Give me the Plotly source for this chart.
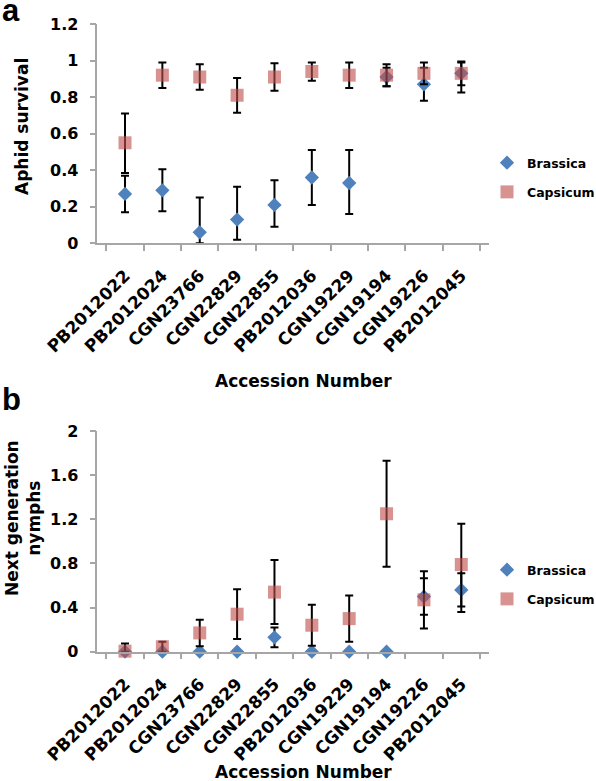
import plotly.graph_objects as go

categories = ["PB2012022", "PB2012024", "CGN23766", "CGN22829", "CGN22855",
              "PB2012036", "CGN19229", "CGN19194", "CGN19226", "PB2012045"]

# Panel a: aphid survival
a_brassica = [0.27, 0.29, 0.06, 0.13, 0.21, 0.36, 0.33, 0.91, 0.87, 0.93]
a_brassica_err_plus = [0.10, 0.115, 0.19, 0.18, 0.135, 0.15, 0.18, 0.05, 0.09, 0.065]
a_brassica_err_minus = [0.10, 0.115, 0.06, 0.11, 0.12, 0.15, 0.17, 0.05, 0.09, 0.065]
a_capsicum = [0.55, 0.92, 0.91, 0.81, 0.91, 0.94, 0.92, 0.92, 0.93, 0.93]
a_capsicum_err_plus = [0.16, 0.07, 0.07, 0.095, 0.075, 0.05, 0.07, 0.06, 0.06, 0.06]
a_capsicum_err_minus = [0.165, 0.07, 0.07, 0.095, 0.075, 0.05, 0.07, 0.06, 0.06, 0.105]

# Panel b: next generation nymphs
b_brassica = [0, 0, 0, 0, 0.13, 0, 0, 0, 0.50, 0.56]
b_brassica_err = [None, None, None, None, 0.09, None, None, None, 0.165, 0.15]
b_capsicum = [0.005, 0.045, 0.17, 0.34, 0.54, 0.24, 0.30, 1.25, 0.47, 0.79]
b_capsicum_err_plus = [0.07, 0.045, 0.12, 0.225, 0.29, 0.185, 0.21, 0.48, 0.26, 0.37]
b_capsicum_err_minus = [0.005, 0.045, 0.12, 0.225, 0.29, 0.185, 0.21, 0.48, 0.26, 0.43]

BLUE = "#4F81BD"
PINK = "rgba(192,80,77,0.62)"
FONT = "DejaVu Sans"
AXC = "#A6A6A6"

W, H = 596, 781


def px(x):
    return x / W


def py(y):
    return (H - y) / H


fig = go.Figure()


def add_panel(xa, ya, legend, yb, ebp, ebm, yc, ecp, ecm):
    fig.add_trace(go.Scatter(
        x=categories, y=yb, mode="markers", name="Brassica",
        xaxis=xa, yaxis=ya, legend=legend, legendgroup=legend + "b",
        cliponaxis=False,
        marker=dict(symbol="diamond", size=11, color=BLUE),
        error_y=dict(type="data", array=ebp, arrayminus=ebm, symmetric=False,
                     color="black", thickness=2, width=4),
    ))
    fig.add_trace(go.Scatter(
        x=categories, y=yc, mode="markers", name="Capsicum",
        xaxis=xa, yaxis=ya, legend=legend, legendgroup=legend + "c",
        cliponaxis=False,
        marker=dict(symbol="square", size=13, color=PINK),
        error_y=dict(type="data", array=ecp, arrayminus=ecm, symmetric=False,
                     color="black", thickness=2, width=4),
    ))


add_panel("x", "y", "legend", a_brassica, a_brassica_err_plus, a_brassica_err_minus,
          a_capsicum, a_capsicum_err_plus, a_capsicum_err_minus)
add_panel("x2", "y2", "legend2", b_brassica, b_brassica_err, b_brassica_err,
          b_capsicum, b_capsicum_err_plus, b_capsicum_err_minus)

xdom = [px(97.3), px(489)]
common_x = dict(type="category", showline=True, linecolor=AXC, linewidth=1.5,
                ticks="outside", ticklen=6, tickcolor=AXC, tickwidth=1.5,
                tickson="boundaries", tickangle=-45, showgrid=False, zeroline=False,
                automargin=False, ticklabelstandoff=14,
                tickfont=dict(family=FONT, size=17, color="black", weight="bold"),
                domain=xdom)
common_y = dict(showline=True, linecolor=AXC, linewidth=1.5, ticks="outside",
                ticklen=6, tickcolor=AXC, tickwidth=1.5, showgrid=False,
                zeroline=False, ticklabelstandoff=8, automargin=False,
                tickfont=dict(family=FONT, size=16, color="black", weight="bold"))

legend_font = dict(family=FONT, size=12.5, color="black", weight="bold")

fig.update_layout(
    width=W, height=H, margin=dict(l=0, r=0, t=0, b=0, autoexpand=False),
    paper_bgcolor="white", plot_bgcolor="white",
    showlegend=True,
    xaxis=dict(**common_x, anchor="y"),
    yaxis=dict(**common_y, anchor="x", range=[0, 1.2], dtick=0.2,
               domain=[py(243.3), py(24)]),
    xaxis2=dict(**common_x, anchor="y2"),
    yaxis2=dict(**common_y, anchor="x2", range=[0, 2], dtick=0.4,
                domain=[py(651.7), py(431)]),
    legend=dict(x=px(487), y=py(148), xanchor="left", yanchor="top",
                tracegroupgap=10, bgcolor="rgba(0,0,0,0)", font=legend_font),
    legend2=dict(x=px(487), y=py(555), xanchor="left", yanchor="top",
                 tracegroupgap=10, bgcolor="rgba(0,0,0,0)", font=legend_font),
)

title_font = dict(family=FONT, size=17, color="black", weight="bold")
panel_font = dict(family="Liberation Sans", size=31, color="black", weight="bold")

fig.add_annotation(text="a", x=0, y=1, xref="paper", yref="paper",
                   xanchor="left", yanchor="top", showarrow=False, font=panel_font,
                   yshift=9)
fig.add_annotation(text="b", x=0, y=py(380), xref="paper", yref="paper",
                   xanchor="left", yanchor="top", showarrow=False, font=panel_font)
fig.add_annotation(text="Aphid survival", x=px(22), y=py(127), xref="paper",
                   yref="paper", textangle=-90, showarrow=False, font=title_font,
                   xanchor="center", yanchor="middle")
fig.add_annotation(text="Next generation<br>nymphs", x=px(23), y=py(518),
                   xref="paper", yref="paper", textangle=-90, showarrow=False,
                   font=title_font, xanchor="center", yanchor="middle")
fig.add_annotation(text="Accession Number", x=px(303), y=py(381), xref="paper",
                   yref="paper", showarrow=False, font=title_font,
                   xanchor="center", yanchor="middle")
fig.add_annotation(text="Accession Number", x=px(303), y=py(772), xref="paper",
                   yref="paper", showarrow=False, font=title_font,
                   xanchor="center", yanchor="middle")

fig.write_html("out.html", config={"displayModeBar": False},
               post_script="document.body.style.margin='0';")
